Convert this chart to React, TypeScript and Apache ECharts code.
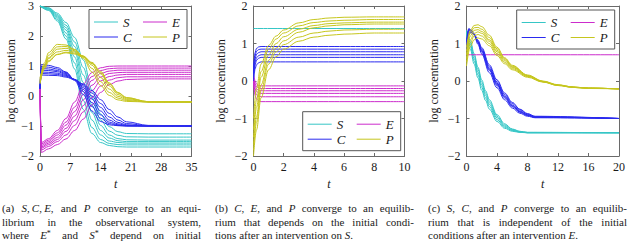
import React, { useEffect, useRef } from "react";
import * as echarts from "echarts";

// ---------- data: panel (a) observational system ----------
const tA_S = [0, 2, 4, 6, 8, 10, 12, 14, 16, 18, 20, 25, 30, 35];
const aS = [
  [3, 2.85, 2.5, 1.9, 0.9, -0.45, -1.25, -1.55, -1.65, -1.69, -1.7, -1.7, -1.7, -1.7],
  [3, 2.87, 2.55, 2.0, 1.1, -0.15, -1.05, -1.45, -1.58, -1.62, -1.63, -1.63, -1.63, -1.63],
  [3, 2.89, 2.6, 2.1, 1.3, 0.15, -0.8, -1.3, -1.5, -1.55, -1.57, -1.57, -1.57, -1.57],
  [3, 2.9, 2.64, 2.2, 1.5, 0.45, -0.55, -1.15, -1.4, -1.49, -1.52, -1.52, -1.52, -1.52],
  [3, 2.92, 2.68, 2.28, 1.65, 0.7, -0.3, -0.98, -1.3, -1.42, -1.46, -1.47, -1.47, -1.47],
  [3, 2.93, 2.72, 2.36, 1.8, 0.95, -0.05, -0.8, -1.17, -1.31, -1.36, -1.37, -1.37, -1.37],
  [3, 2.94, 2.76, 2.45, 1.95, 1.2, 0.2, -0.6, -1.02, -1.19, -1.25, -1.26, -1.26, -1.26],
];
const tA_E = [0, 0.3, 2, 4, 6, 8, 10, 12, 14, 16, 18, 20, 25, 35];
const aE = [
  [0.25, -1.55, -1.42, -1.15, -0.75, -0.2, 0.4, 0.78, 0.94, 0.99, 1.0, 1.0, 1.0, 1.0],
  [0.25, -1.6, -1.47, -1.23, -0.87, -0.37, 0.22, 0.65, 0.85, 0.91, 0.93, 0.93, 0.93, 0.93],
  [0.25, -1.65, -1.52, -1.3, -0.97, -0.52, 0.05, 0.52, 0.75, 0.83, 0.86, 0.86, 0.86, 0.86],
  [0.25, -1.7, -1.57, -1.38, -1.08, -0.67, -0.13, 0.36, 0.63, 0.75, 0.78, 0.79, 0.79, 0.79],
  [0.25, -1.74, -1.62, -1.45, -1.18, -0.82, -0.32, 0.18, 0.5, 0.65, 0.7, 0.72, 0.72, 0.72],
  [0.25, -1.8, -1.68, -1.52, -1.3, -0.98, -0.53, -0.05, 0.33, 0.53, 0.61, 0.64, 0.64, 0.64],
  [0.25, -1.88, -1.76, -1.62, -1.43, -1.15, -0.77, -0.3, 0.12, 0.38, 0.5, 0.55, 0.57, 0.57],
];
const tA_C = [0, 0.3, 2, 4, 6, 8, 10, 12, 14, 16, 18, 20, 25, 35];
const aC = [
  [0.25, 1.05, 1.02, 0.95, 0.8, 0.52, 0.05, -0.5, -0.85, -0.96, -0.99, -1, -1, -1],
  [0.25, 0.98, 0.96, 0.9, 0.78, 0.55, 0.15, -0.35, -0.74, -0.92, -0.98, -1, -1, -1],
  [0.25, 0.92, 0.9, 0.85, 0.75, 0.55, 0.22, -0.22, -0.63, -0.87, -0.96, -0.99, -1, -1],
  [0.25, 0.86, 0.85, 0.81, 0.72, 0.55, 0.28, -0.1, -0.5, -0.8, -0.93, -0.98, -1, -1],
  [0.25, 0.8, 0.79, 0.76, 0.69, 0.55, 0.33, 0.0, -0.38, -0.7, -0.88, -0.96, -1, -1],
  [0.25, 0.75, 0.74, 0.72, 0.66, 0.55, 0.37, 0.1, -0.25, -0.58, -0.8, -0.92, -0.99, -1],
  [0.25, 0.7, 0.69, 0.68, 0.63, 0.54, 0.4, 0.18, -0.12, -0.45, -0.7, -0.86, -0.98, -1],
];
const tA_P = [0, 1, 2, 4, 6, 8, 10, 12, 14, 16, 18, 20, 25, 35];
const aP = [
  [0.5, 1.1, 1.45, 1.72, 1.7, 1.55, 1.25, 0.8, 0.35, 0.02, -0.13, -0.18, -0.2, -0.2],
  [0.45, 1.02, 1.36, 1.64, 1.65, 1.55, 1.3, 0.92, 0.48, 0.12, -0.07, -0.15, -0.2, -0.2],
  [0.4, 0.95, 1.28, 1.56, 1.59, 1.51, 1.33, 1.03, 0.62, 0.23, -0.01, -0.12, -0.2, -0.2],
  [0.55, 1.0, 1.25, 1.47, 1.52, 1.47, 1.33, 1.1, 0.74, 0.34, 0.05, -0.09, -0.19, -0.2],
  [0.45, 0.9, 1.15, 1.39, 1.46, 1.43, 1.32, 1.12, 0.82, 0.44, 0.12, -0.05, -0.19, -0.2],
  [0.6, 0.98, 1.18, 1.38, 1.44, 1.4, 1.29, 1.08, 0.78, 0.4, 0.1, -0.06, -0.19, -0.2],
];

// ---------- data: panel (b) intervention on S ----------
const tB_S = [0, 10];
const bS = [[1.4, 1.4]];
const tB_CE = [0, 0.05, 0.1, 0.2, 0.35, 0.5, 0.8, 1.2, 10];
const bC = [
  [0.3, 0.6, 0.75, 0.87, 0.91, 0.92, 0.92, 0.92, 0.92],
  [0.25, 0.52, 0.67, 0.79, 0.84, 0.85, 0.85, 0.85, 0.85],
  [0.2, 0.45, 0.59, 0.71, 0.76, 0.78, 0.78, 0.78, 0.78],
  [0.1, 0.35, 0.5, 0.62, 0.68, 0.7, 0.7, 0.7, 0.7],
  [0.05, 0.28, 0.42, 0.55, 0.61, 0.63, 0.63, 0.63, 0.63],
  [0.0, 0.2, 0.32, 0.43, 0.49, 0.51, 0.51, 0.51, 0.51],
];
const bE = [
  [0.2, 0.08, 0.0, -0.08, -0.12, -0.13, -0.13, -0.13, -0.13],
  [0.15, 0.02, -0.07, -0.15, -0.19, -0.2, -0.2, -0.2, -0.2],
  [0.1, -0.04, -0.13, -0.21, -0.25, -0.26, -0.26, -0.26, -0.26],
  [0.05, -0.1, -0.2, -0.28, -0.32, -0.33, -0.33, -0.33, -0.33],
  [0.0, -0.17, -0.28, -0.37, -0.41, -0.42, -0.42, -0.42, -0.42],
  [-0.05, -0.25, -0.38, -0.48, -0.53, -0.55, -0.55, -0.55, -0.55],
];
const tB_P = [0, 0.2, 0.5, 1, 1.5, 2, 3, 4, 5, 6, 8, 10];
const bP = [
  [-1.0, -0.2, 0.45, 0.95, 1.2, 1.36, 1.55, 1.64, 1.68, 1.7, 1.71, 1.71],
  [-1.3, -0.5, 0.25, 0.85, 1.12, 1.28, 1.47, 1.56, 1.6, 1.62, 1.64, 1.64],
  [-1.5, -0.7, 0.1, 0.7, 1.0, 1.18, 1.38, 1.48, 1.53, 1.55, 1.57, 1.57],
  [-1.7, -0.95, -0.1, 0.55, 0.88, 1.07, 1.3, 1.42, 1.47, 1.5, 1.52, 1.52],
  [-1.85, -1.1, -0.25, 0.45, 0.78, 0.97, 1.17, 1.28, 1.33, 1.36, 1.38, 1.38],
  [-2.0, -1.3, -0.45, 0.3, 0.65, 0.85, 1.06, 1.17, 1.22, 1.25, 1.28, 1.28],
];

// ---------- data: panel (c) intervention on E ----------
const tC_S = [0, 0.5, 1, 1.5, 2, 2.5, 3, 4, 5, 6, 7, 8, 20];
const cS = [
  [1.2, 0.85, 0.45, 0.08, -0.25, -0.52, -0.75, -1.08, -1.26, -1.34, -1.37, -1.38, -1.38],
  [1.25, 0.92, 0.53, 0.16, -0.17, -0.45, -0.68, -1.03, -1.23, -1.32, -1.36, -1.38, -1.38],
  [1.3, 0.98, 0.6, 0.24, -0.1, -0.38, -0.62, -0.98, -1.2, -1.31, -1.36, -1.38, -1.38],
  [1.33, 1.03, 0.67, 0.31, -0.03, -0.32, -0.56, -0.94, -1.17, -1.29, -1.35, -1.37, -1.38],
  [1.36, 1.08, 0.73, 0.37, 0.03, -0.26, -0.5, -0.9, -1.14, -1.28, -1.34, -1.37, -1.38],
];
const tC_E = [0, 20];
const cE = [[0.7, 0.7]];
const tC_C = [0, 0.3, 0.6, 1, 1.5, 2, 3, 4, 5, 6, 7, 8, 9, 20];
const cC = [
  [0.9, 1.38, 1.35, 1.22, 0.98, 0.72, 0.22, -0.18, -0.5, -0.72, -0.86, -0.94, -0.98, -1.0],
  [0.95, 1.36, 1.34, 1.24, 1.02, 0.77, 0.28, -0.12, -0.45, -0.68, -0.83, -0.92, -0.97, -1.0],
  [1.0, 1.34, 1.33, 1.25, 1.05, 0.82, 0.34, -0.06, -0.4, -0.64, -0.8, -0.9, -0.96, -1.0],
  [0.85, 1.3, 1.3, 1.23, 1.06, 0.85, 0.38, -0.02, -0.36, -0.6, -0.77, -0.88, -0.95, -1.0],
  [0.8, 1.27, 1.29, 1.24, 1.09, 0.89, 0.43, 0.03, -0.32, -0.57, -0.75, -0.87, -0.94, -1.0],
  [1.05, 1.4, 1.36, 1.26, 1.04, 0.8, 0.31, -0.09, -0.42, -0.66, -0.82, -0.91, -0.96, -1.0],
];
const tC_P = [0, 0.5, 1, 1.5, 2, 3, 4, 5, 6, 8, 10, 12, 14, 16, 20];
const cP = [
  [0.9, 1.35, 1.48, 1.5, 1.45, 1.22, 0.9, 0.62, 0.42, 0.16, 0.0, -0.1, -0.16, -0.19, -0.21],
  [0.8, 1.28, 1.42, 1.43, 1.38, 1.16, 0.86, 0.6, 0.4, 0.15, -0.01, -0.11, -0.16, -0.19, -0.21],
  [0.7, 1.2, 1.35, 1.37, 1.32, 1.1, 0.82, 0.57, 0.38, 0.14, -0.01, -0.11, -0.16, -0.19, -0.21],
  [0.6, 1.1, 1.27, 1.31, 1.27, 1.06, 0.78, 0.54, 0.36, 0.13, -0.02, -0.11, -0.17, -0.19, -0.21],
  [0.5, 1.02, 1.2, 1.24, 1.2, 1.0, 0.73, 0.5, 0.33, 0.12, -0.02, -0.12, -0.17, -0.19, -0.21],
  [0.4, 0.92, 1.1, 1.15, 1.12, 0.94, 0.68, 0.46, 0.3, 0.1, -0.03, -0.12, -0.17, -0.2, -0.21],
];

// ---------- axes ----------
const xMax = [35, 10, 20];
const xStep = [7, 2, 4];
const yMin = [-2, -2, -2];
const yMax = [3, 2, 2];
const legendNames = ["S", "E", "C", "P"];

// ---------- captions ----------
const captionA = [
  "(a) {i|S},\u2009{i|C},\u2009{i|E}, and {i|P} converge to an equi-",
  "librium in the observational system,",
  "where {i|E}{s|*} and {i|S}{s|*} depend on initial",
];
const captionB = [
  "(b) {i|C}, {i|E}, and {i|P} converge to an equilib-",
  "rium that depends on the initial condi-",
  "tions after an intervention on {i|S}.",
];
const captionC = [
  "(c) {i|S}, {i|C}, and {i|P} converge to an equilib-",
  "rium that is independent of the initial",
  "conditions after an intervention {i|E}.",
];

const COL = { S: "#36c6c6", C: "#2a2aee", E: "#cc2ccc", P: "#c6c61e" };
const FONT = "Liberation Serif";
const AXC = "#6a6a6a";

const GRID_LEFT = [40, 253.5, 466.5];
const GRID_W = [151.5, 151, 152.5];
const GRID_TOP = 5;
const GRID_H = 151;
const NAME_GAP = [22, 27, 27];
const LEGEND_POS = [
  [89, 9.5],
  [302.7, 111.7],
  [516.7, 10],
];
const CAP_X = [
  [2, 201],
  [215, 414],
  [428, 627],
];
const CAP_Y = [208, 221.5, 235];
const CAP_SIZE = 11;

function fmtTick(v: number) {
  return v < 0 ? "\u2212" + Math.abs(v) : String(v);
}

function lineSeries(panel: number, t: number[], curves: number[][], color: string) {
  return curves.map((c) => ({
    type: "line",
    xAxisIndex: panel,
    yAxisIndex: panel,
    data: t.map((x, i) => [x, c[i]]),
    showSymbol: false,
    symbol: "none",
    smooth: 0.35,
    smoothMonotone: "x",
    silent: true,
    lineStyle: { width: 1, color },
    z: 2,
  }));
}

export default function App() {
  const ref = useRef<HTMLDivElement>(null);
  useEffect(() => {
    if (!ref.current) return;
    const chart = echarts.init(ref.current, undefined, { renderer: "svg" });

    const ctx = document.createElement("canvas").getContext("2d")!;
    const measure = (word: string) => {
      let w = 0;
      const re = /\{(\w+)\|([^}]*)\}|([^{]+)/g;
      let m: RegExpExecArray | null;
      while ((m = re.exec(word))) {
        if (m[3] !== undefined) {
          ctx.font = `${CAP_SIZE}px ${FONT}`;
          w += ctx.measureText(m[3]).width;
        } else if (m[1] === "i") {
          ctx.font = `italic ${CAP_SIZE}px ${FONT}`;
          w += ctx.measureText(m[2]).width;
        } else {
          ctx.font = `8px ${FONT}`;
          w += ctx.measureText(m[2]).width;
        }
      }
      return w;
    };
    const rich = {
      i: { fontStyle: "italic", fontFamily: FONT, fontSize: CAP_SIZE, fill: "#1a1a1a" },
      s: { fontFamily: FONT, fontSize: 8, fill: "#1a1a1a", verticalAlign: "top" },
    };
    const graphics: any[] = [];
    const caps = [captionA, captionB, captionC];
    caps.forEach((lines, k) => {
      const [x0, x1] = CAP_X[k];
      lines.forEach((line, li) => {
        const words = line.split(" ");
        const widths = words.map(measure);
        const total = widths.reduce((a, b) => a + b, 0);
        const isLast = li === lines.length - 1 && k !== 0;
        ctx.font = `${CAP_SIZE}px ${FONT}`;
        const space = ctx.measureText(" ").width;
        const gap = isLast || words.length < 2 ? space : (x1 - x0 - total) / (words.length - 1);
        let x = x0;
        words.forEach((w, wi) => {
          graphics.push({
            type: "text",
            x,
            y: CAP_Y[li],
            silent: true,
            style: {
              text: w,
              rich,
              fontFamily: FONT,
              fontSize: CAP_SIZE,
              fill: "#1a1a1a",
              align: "left",
              verticalAlign: "middle",
            },
          });
          x += widths[wi] + gap;
        });
      });
    });

    // legends
    const legendCols = [COL.S, COL.E, COL.C, COL.P];
    LEGEND_POS.forEach(([lx, ly]) => {
      graphics.push({
        type: "rect",
        shape: { x: lx, y: ly, width: 98, height: 39 },
        style: { fill: "#fff", stroke: "#555", lineWidth: 1 },
        z: 10,
        silent: true,
      });
      legendNames.forEach((nm, i) => {
        const col = i % 2;
        const row = Math.floor(i / 2);
        const bx = lx + 5 + col * 49;
        const by = ly + 12.5 + row * 15;
        graphics.push({
          type: "line",
          shape: { x1: bx, y1: by, x2: bx + 24, y2: by },
          style: { stroke: legendCols[i], lineWidth: 1 },
          z: 11,
          silent: true,
        });
        graphics.push({
          type: "text",
          x: bx + 29,
          y: by,
          z: 11,
          silent: true,
          style: {
            text: nm,
            fontFamily: FONT,
            fontStyle: "italic",
            fontSize: 13,
            fill: "#1a1a1a",
            align: "left",
            verticalAlign: "middle",
          },
        });
      });
    });

    const grids = [0, 1, 2].map((k) => ({
      left: GRID_LEFT[k],
      top: GRID_TOP,
      width: GRID_W[k],
      height: GRID_H,
      containLabel: false,
    }));

    const axisLineStyle = { show: true, lineStyle: { color: AXC, width: 1 } };
    const tickStyle = { show: true, inside: true, length: 3, lineStyle: { color: AXC, width: 1 } };
    const labelStyle = { fontFamily: FONT, fontSize: 12, color: "#1a1a1a" };

    const xAxes: any[] = [];
    const yAxes: any[] = [];
    [0, 1, 2].forEach((k) => {
      xAxes.push({
        type: "value",
        gridIndex: k,
        position: "bottom",
        min: 0,
        max: xMax[k],
        interval: xStep[k],
        axisLine: { ...axisLineStyle, onZero: false },
        axisTick: tickStyle,
        splitLine: { show: false },
        axisLabel: { ...labelStyle, margin: 5, formatter: fmtTick },
        name: "t",
        nameLocation: "middle",
        nameGap: 20,
        nameTextStyle: { fontFamily: FONT, fontStyle: "italic", fontSize: 12, color: "#1a1a1a" },
      });
      yAxes.push({
        type: "value",
        gridIndex: k,
        position: "left",
        min: yMin[k],
        max: yMax[k],
        interval: 1,
        axisLine: { ...axisLineStyle, onZero: false },
        axisTick: tickStyle,
        splitLine: { show: false },
        axisLabel: { ...labelStyle, margin: 6, formatter: fmtTick },
        name: "log concentration",
        nameLocation: "middle",
        nameGap: NAME_GAP[k],
        nameRotate: 90,
        nameTextStyle: { fontFamily: FONT, fontSize: 12, color: "#1a1a1a" },
      });
    });
    [0, 1, 2].forEach((k) => {
      xAxes.push({
        type: "value",
        gridIndex: k,
        position: "top",
        min: 0,
        max: xMax[k],
        interval: xStep[k],
        axisLine: { ...axisLineStyle, onZero: false },
        axisTick: tickStyle,
        splitLine: { show: false },
        axisLabel: { show: false },
      });
      yAxes.push({
        type: "value",
        gridIndex: k,
        position: "right",
        min: yMin[k],
        max: yMax[k],
        interval: 1,
        axisLine: { ...axisLineStyle, onZero: false },
        axisTick: tickStyle,
        splitLine: { show: false },
        axisLabel: { show: false },
      });
    });

    const series = [
      ...lineSeries(0, tA_S, aS, COL.S),
      ...lineSeries(0, tA_E, aE, COL.E),
      ...lineSeries(0, tA_C, aC, COL.C),
      ...lineSeries(0, tA_P, aP, COL.P),
      ...lineSeries(1, tB_S, bS, COL.S),
      ...lineSeries(1, tB_CE, bE, COL.E),
      ...lineSeries(1, tB_CE, bC, COL.C),
      ...lineSeries(1, tB_P, bP, COL.P),
      ...lineSeries(2, tC_S, cS, COL.S),
      ...lineSeries(2, tC_E, cE, COL.E),
      ...lineSeries(2, tC_C, cC, COL.C),
      ...lineSeries(2, tC_P, cP, COL.P),
    ];

    chart.setOption({
      animation: false,
      backgroundColor: "#fff",
      grid: grids,
      xAxis: xAxes,
      yAxis: yAxes,
      series,
      graphic: graphics,
    });
    return () => chart.dispose();
  }, []);

  return (
    <div
      ref={ref}
      style={{ position: "fixed", left: 0, top: 0, width: 640, height: 241, background: "#fff" }}
    />
  );
}
